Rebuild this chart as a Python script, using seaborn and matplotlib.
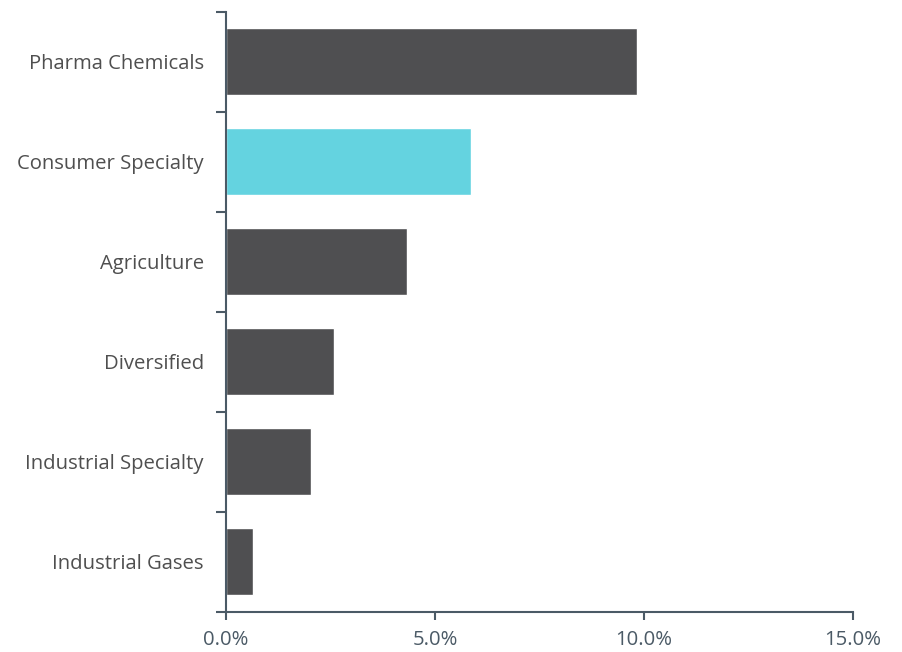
import numpy as np
import pandas as pd
import matplotlib
matplotlib.use("Agg")
import matplotlib.pyplot as plt
import seaborn as sns
from matplotlib.ticker import FuncFormatter

categories = ["Pharma Chemicals", "Consumer Specialty", "Agriculture",
              "Diversified", "Industrial Specialty", "Industrial Gases"]
values = [9.83, 5.86, 4.33, 2.58, 2.03, 0.65]
highlight = "Consumer Specialty"

df = pd.DataFrame({"segment": categories, "growth": values})

sns.set_style("white")
plt.rcParams["font.family"] = ["Open Sans", "DejaVu Sans"]

axis_color = "#4b5a66"
palette = {c: ("#64d3e0" if c == highlight else "#4f4f51") for c in categories}

fig = plt.figure(figsize=(9.02, 6.52), dpi=100)
ax = fig.add_axes([226 / 902, 1 - 611.5 / 652, (853 - 226) / 902, (611.5 - 11.5) / 652])

sns.barplot(data=df, x="growth", y="segment", hue="segment", palette=palette,
            order=categories, width=0.67, legend=False, ax=ax, saturation=1)

ax.set_xlim(0, 15)
ax.set_ylim(len(categories) - 0.5, -0.5)
ax.set_xticks([0, 5, 10, 15])
ax.xaxis.set_major_formatter(FuncFormatter(lambda v, p: f"{v:.1f}%"))
ax.set_xlabel("")
ax.set_ylabel("")

# labels at bar centres, ticks at category boundaries
ax.set_yticks(range(len(categories)))
ax.set_yticklabels(categories)
ax.set_yticks(np.arange(-0.5, len(categories)), minor=True)
ax.tick_params(axis="y", which="major", length=0, pad=16, labelsize=14.6, labelcolor="#4f4f4f")
ax.tick_params(axis="y", which="minor", length=7, width=1.5, color=axis_color, left=True)
ax.tick_params(axis="x", length=6, width=1.5, color=axis_color, pad=7,
               labelsize=14.6, labelcolor=axis_color, bottom=True)

for s in ["top", "right"]:
    ax.spines[s].set_visible(False)
for s in ["left", "bottom"]:
    ax.spines[s].set_color(axis_color)
    ax.spines[s].set_linewidth(1.5)

fig.savefig("out.png", dpi=100)
